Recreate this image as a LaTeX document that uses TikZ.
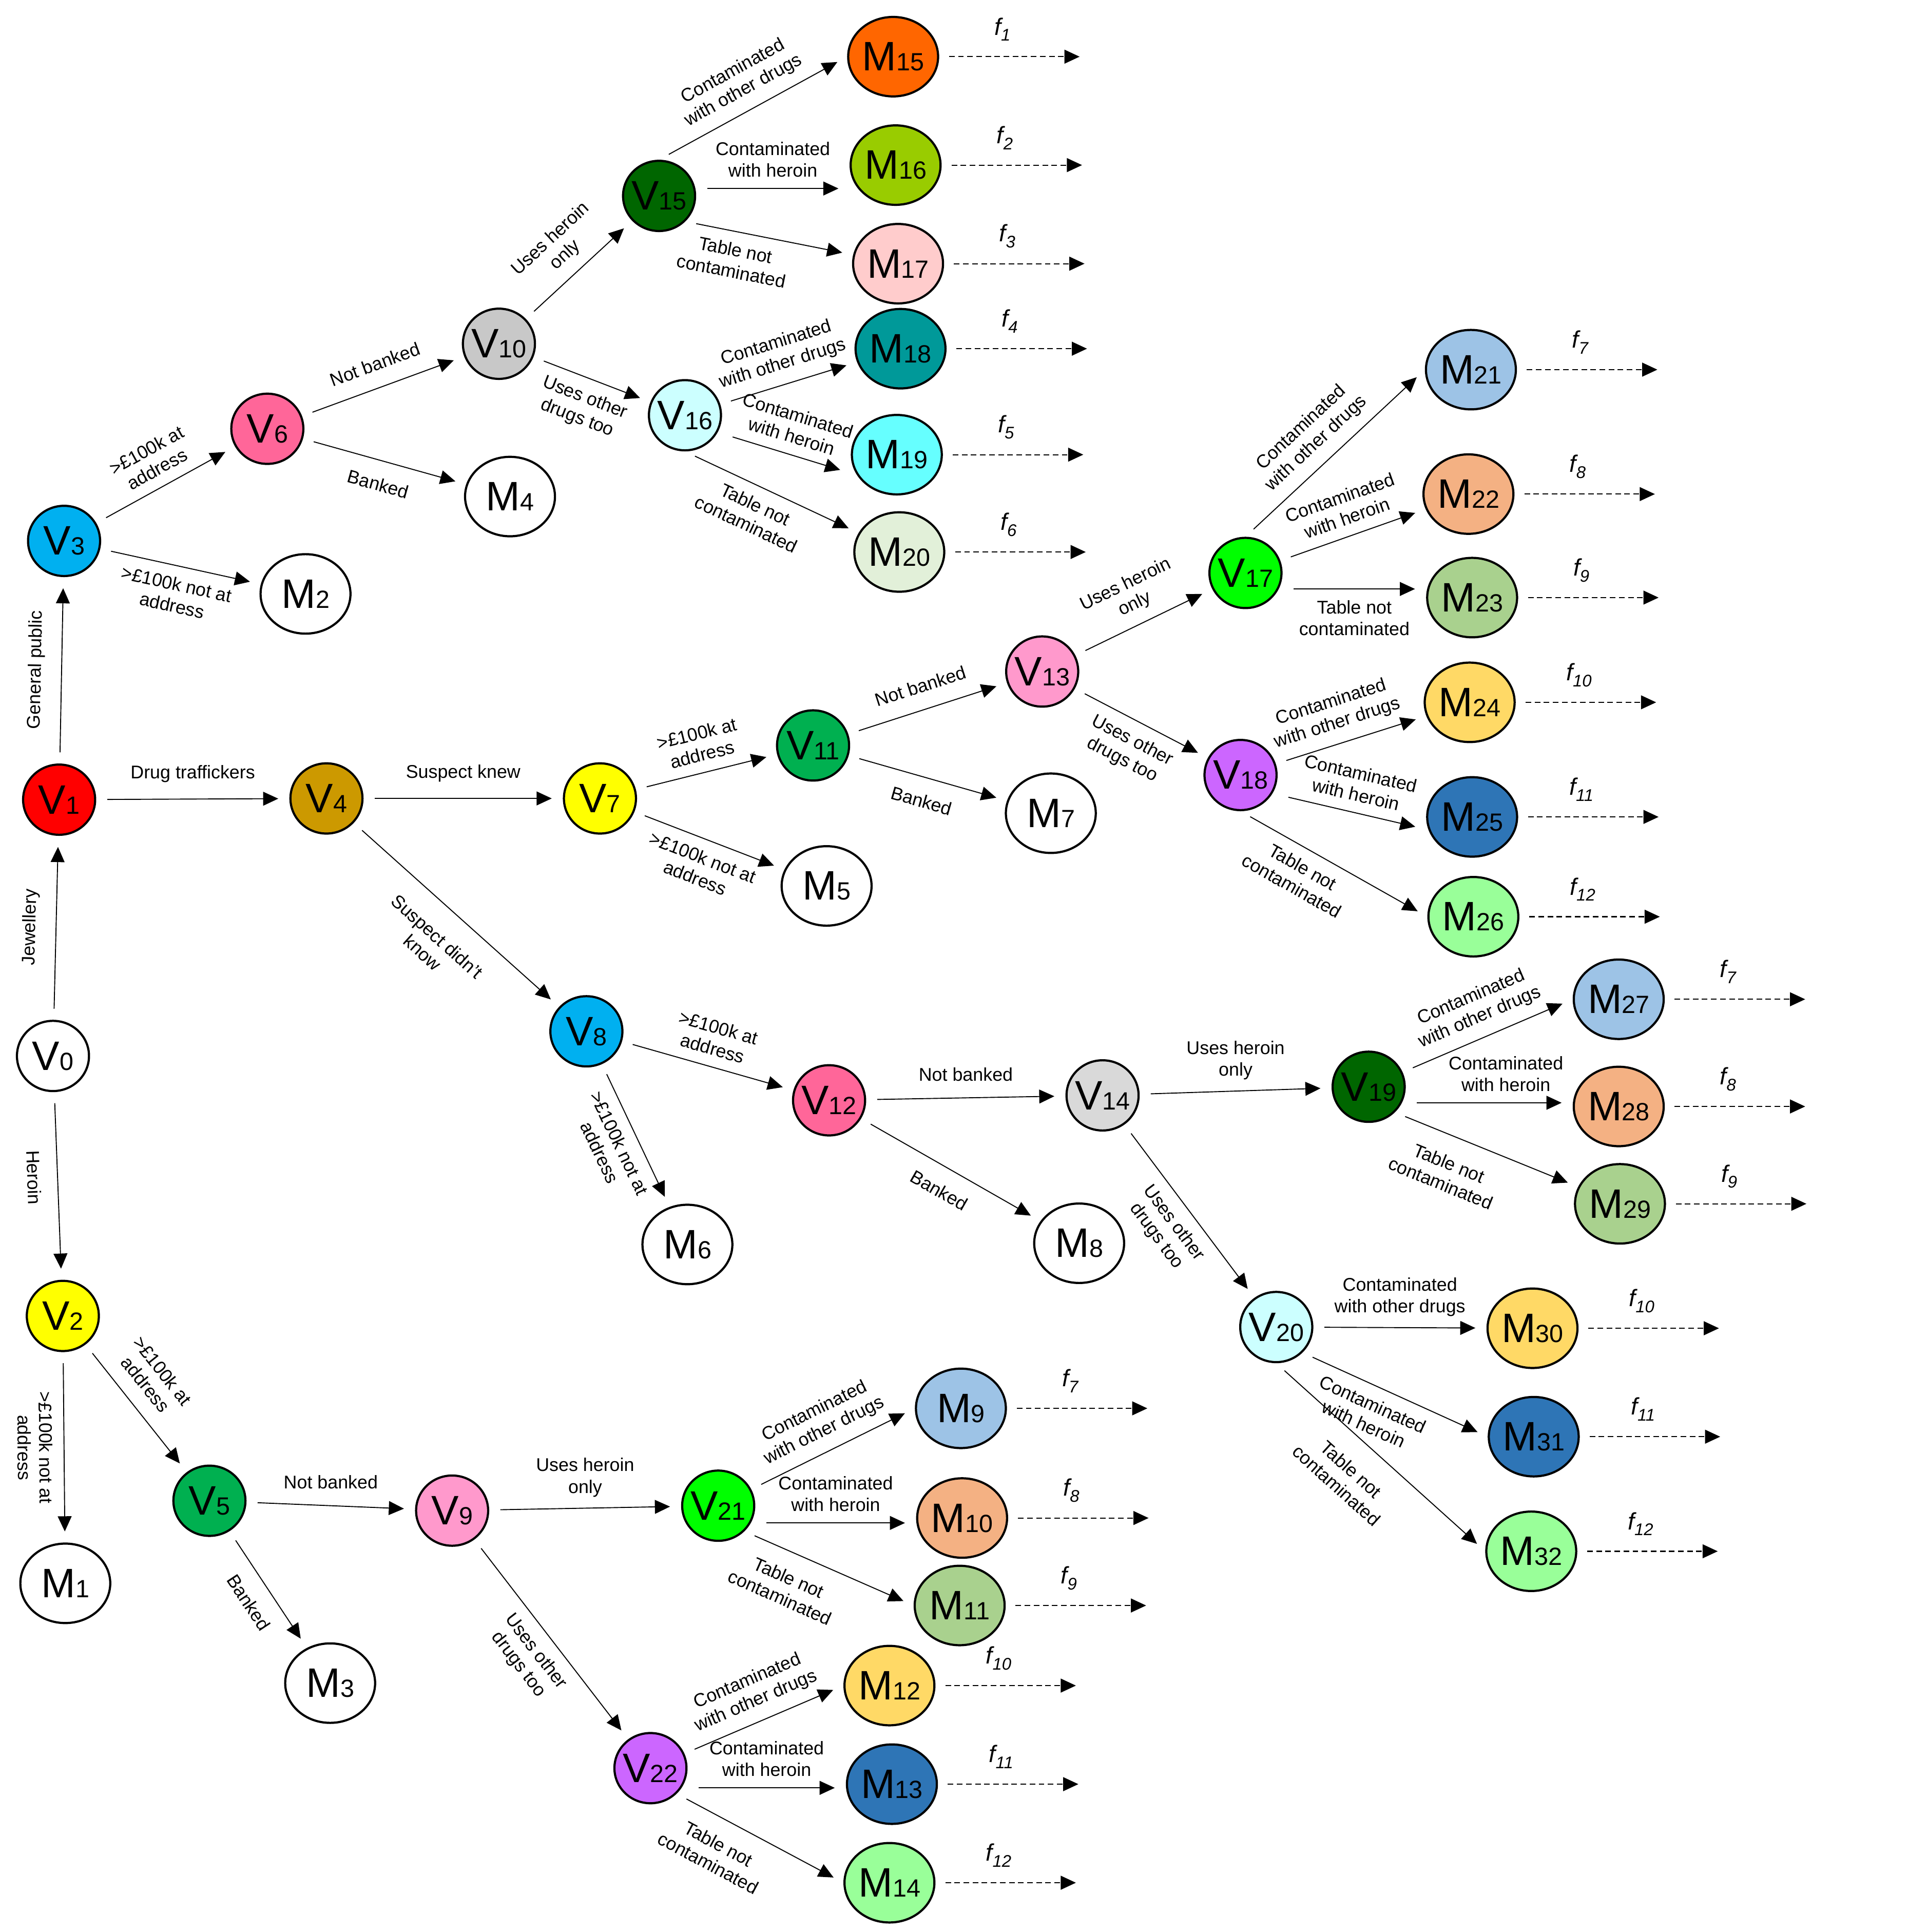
\documentclass[tikz,border=0pt]{standalone}
\usepackage{fontspec}
\setmainfont{Liberation Sans}
\usetikzlibrary{shapes.geometric,arrows.meta}

\definecolor{cred}{RGB}{255,0,0}
\definecolor{cyel}{RGB}{255,255,0}
\definecolor{cblu}{RGB}{0,176,240}
\definecolor{cgold}{RGB}{204,153,0}
\definecolor{cgrn}{RGB}{0,176,80}
\definecolor{crose}{RGB}{255,102,153}
\definecolor{cpink}{RGB}{255,153,204}
\definecolor{cgray}{RGB}{200,200,200}
\definecolor{clgray}{RGB}{217,217,217}
\definecolor{cdkgrn}{RGB}{0,102,0}
\definecolor{cice}{RGB}{204,255,255}
\definecolor{clime}{RGB}{0,255,0}
\definecolor{cviol}{RGB}{204,102,255}
\definecolor{corange}{RGB}{255,102,0}
\definecolor{colive}{RGB}{153,204,0}
\definecolor{cblush}{RGB}{255,204,204}
\definecolor{cteal}{RGB}{0,153,153}
\definecolor{caqua}{RGB}{102,255,255}
\definecolor{cpale}{RGB}{226,240,217}
\definecolor{csky}{RGB}{157,195,230}
\definecolor{csalm}{RGB}{244,177,131}
\definecolor{csage}{RGB}{169,209,142}
\definecolor{csun}{RGB}{255,217,102}
\definecolor{csea}{RGB}{46,117,182}
\definecolor{cmint}{RGB}{153,255,153}

\newcommand{\nlab}[2]{\makebox[0pt]{\fontsize{19}{19}\selectfont #1\fontsize{11.5}{11.5}\selectfont #2}}
\newcommand{\fl}[1]{{\fontsize{11}{12}\selectfont\itshape f\raisebox{-2.8pt}{\fontsize{7.8}{8}\selectfont #1}}}

\tikzset{
  vnode/.style={ellipse, draw, line width=1pt, fill=white, minimum width=1.17cm, minimum height=1.14cm, inner sep=0pt},
  mnode/.style={ellipse, draw, line width=1pt, fill=white, minimum width=1.46cm, minimum height=1.29cm, inner sep=0pt},
  link/.style={-{Triangle[length=7pt,width=6.4pt]}, line width=0.45pt, shorten <=0.18cm, shorten >=0.18cm},
  fout/.style={-{Triangle[length=7pt,width=6.4pt]}, line width=0.5pt, dash pattern=on 2.6pt off 1.6pt, shorten <=0.16cm},
  lab/.style={font=\fontsize{8.5}{10}\selectfont, align=center, inner sep=5pt},
  solo/.style={lab, inner sep=7.5pt},
  flab/.style={pos=0.45, above=4pt, inner sep=3pt},
}

\begin{document}
\begin{tikzpicture}[x=0.02cm, y=-0.02cm]
  \path[use as bounding box, fill=white] (0,0) rectangle (1564,1568);

  % decision nodes
  \node[vnode] (v0) at (43,857) {\nlab{V}{0}};
  \node[vnode,fill=cred] (v1) at (48,649) {\nlab{V}{1}};
  \node[vnode,fill=cyel] (v2) at (51,1068) {\nlab{V}{2}};
  \node[vnode,fill=cblu] (v3) at (52,439) {\nlab{V}{3}};
  \node[vnode,fill=cgold] (v4) at (265,648) {\nlab{V}{4}};
  \node[vnode,fill=cgrn] (v5) at (170,1218) {\nlab{V}{5}};
  \node[vnode,fill=crose] (v6) at (217,348) {\nlab{V}{6}};
  \node[vnode,fill=cyel] (v7) at (487,648) {\nlab{V}{7}};
  \node[vnode,fill=cblu] (v8) at (476,837) {\nlab{V}{8}};
  \node[vnode,fill=cpink] (v9) at (367,1226) {\nlab{V}{9}};
  \node[vnode,fill=cgray] (v10) at (405,279) {\nlab{V}{10}};
  \node[vnode,fill=cgrn] (v11) at (660,605) {\nlab{V}{11}};
  \node[vnode,fill=crose] (v12) at (673,893) {\nlab{V}{12}};
  \node[vnode,fill=cpink] (v13) at (846,545) {\nlab{V}{13}};
  \node[vnode,fill=clgray] (v14) at (895,889) {\nlab{V}{14}};
  \node[vnode,fill=cdkgrn] (v15) at (535,159) {\nlab{V}{15}};
  \node[vnode,fill=cice] (v16) at (556,337) {\nlab{V}{16}};
  \node[vnode,fill=clime] (v17) at (1011,465) {\nlab{V}{17}};
  \node[vnode,fill=cviol] (v18) at (1007,629) {\nlab{V}{18}};
  \node[vnode,fill=cdkgrn] (v19) at (1111,882) {\nlab{V}{19}};
  \node[vnode,fill=cice] (v20) at (1036,1077) {\nlab{V}{20}};
  \node[vnode,fill=clime] (v21) at (583,1222) {\nlab{V}{21}};
  \node[vnode,fill=cviol] (v22) at (528,1435) {\nlab{V}{22}};

  % outcome nodes
  \node[mnode] (m1) at (53,1285) {\nlab{M}{1}};
  \node[mnode] (m2) at (248,482) {\nlab{M}{2}};
  \node[mnode] (m3) at (268,1366) {\nlab{M}{3}};
  \node[mnode] (m4) at (414,403) {\nlab{M}{4}};
  \node[mnode] (m5) at (671,719) {\nlab{M}{5}};
  \node[mnode] (m6) at (558,1010) {\nlab{M}{6}};
  \node[mnode] (m7) at (853,660) {\nlab{M}{7}};
  \node[mnode] (m8) at (876,1009) {\nlab{M}{8}};
  \node[mnode,fill=csky] (m9) at (780,1143) {\nlab{M}{9}};
  \node[mnode,fill=csalm] (m10) at (781,1232) {\nlab{M}{10}};
  \node[mnode,fill=csage] (m11) at (779,1303) {\nlab{M}{11}};
  \node[mnode,fill=csun] (m12) at (722,1368) {\nlab{M}{12}};
  \node[mnode,fill=csea] (m13) at (724,1448) {\nlab{M}{13}};
  \node[mnode,fill=cmint] (m14) at (722,1528) {\nlab{M}{14}};
  \node[mnode,fill=corange] (m15) at (725,46) {\nlab{M}{15}};
  \node[mnode,fill=colive] (m16) at (727,134) {\nlab{M}{16}};
  \node[mnode,fill=cblush] (m17) at (729,214) {\nlab{M}{17}};
  \node[mnode,fill=cteal] (m18) at (731,283) {\nlab{M}{18}};
  \node[mnode,fill=caqua] (m19) at (728,369) {\nlab{M}{19}};
  \node[mnode,fill=cpale] (m20) at (730,448) {\nlab{M}{20}};
  \node[mnode,fill=csky] (m21) at (1194,300) {\nlab{M}{21}};
  \node[mnode,fill=csalm] (m22) at (1192,401) {\nlab{M}{22}};
  \node[mnode,fill=csage] (m23) at (1195,485) {\nlab{M}{23}};
  \node[mnode,fill=csun] (m24) at (1193,570) {\nlab{M}{24}};
  \node[mnode,fill=csea] (m25) at (1195,663) {\nlab{M}{25}};
  \node[mnode,fill=cmint] (m26) at (1196,744) {\nlab{M}{26}};
  \node[mnode,fill=csky] (m27) at (1314,811) {\nlab{M}{27}};
  \node[mnode,fill=csalm] (m28) at (1314,898) {\nlab{M}{28}};
  \node[mnode,fill=csage] (m29) at (1315,977) {\nlab{M}{29}};
  \node[mnode,fill=csun] (m30) at (1244,1078) {\nlab{M}{30}};
  \node[mnode,fill=csea] (m31) at (1245,1166) {\nlab{M}{31}};
  \node[mnode,fill=cmint] (m32) at (1243,1259) {\nlab{M}{32}};

  % first split
  \draw[link] (v0) -- node[solo,sloped,above] {Jewellery} (v1);
  \draw[link] (v0) -- node[solo,sloped,below,pos=0.45] {Heroin} (v2);
  \draw[link] (v1) -- node[solo,sloped,above] {General public} (v3);
  \draw[link] (v1) -- node[solo,above] {Drug traffickers} (v4);

  % general public
  \draw[link] (v3) -- node[lab,sloped,above] {>£100k at\\address} (v6);
  \draw[link] (v3) -- node[lab,sloped,below] {>£100k not at\\address} (m2);
  \draw[link] (v6) -- node[solo,sloped,above] {Not banked} (v10);
  \draw[link] (v6) -- node[solo,sloped,below] {Banked} (m4);
  \draw[link] (v10) -- node[lab,sloped,above] {Uses heroin\\only} (v15);
  \draw[link] (v10) -- node[lab,sloped,below] {Uses other\\drugs too} (v16);
  \draw[link] (v15.north) -- node[lab,sloped,above] {Contaminated\\with other drugs} (m15.west);
  \draw[link] ([yshift=0.12cm]v15.east) -- node[lab,above] {Contaminated\\with heroin} ([yshift=0.12cm]v15.east -| m16.west);
  \draw[link] (v15.south east) -- node[lab,sloped,below,pos=0.32] {Table not\\contaminated} (m17);
  \draw[link] (v16) -- node[lab,sloped,above] {Contaminated\\with other drugs} (m18);
  \draw[link] ([yshift=-0.3cm]v16.east) -- node[lab,sloped,above] {Contaminated\\with heroin} ([yshift=-0.3cm]m19.west);
  \draw[link] (v16.south) -- node[lab,sloped,below,pos=0.45] {Table not\\contaminated} (m20);

  % drug traffickers
  \draw[link] (v4) -- node[solo,above] {Suspect knew} (v7);
  \draw[link] (v4) -- node[lab,sloped,below=5pt] {Suspect didn't\\know} (v8);
  \draw[link] (v7) -- node[lab,sloped,above] {>£100k at\\address} (v11);
  \draw[link] (v7) -- node[lab,sloped,below] {>£100k not at\\address} (m5);
  \draw[link] (v11) -- node[solo,sloped,above] {Not banked} (v13);
  \draw[link] (v11) -- node[solo,sloped,below] {Banked} (m7);
  \draw[link] (v13) -- node[lab,sloped,above] {Uses heroin\\only} (v17);
  \draw[link] (v13) -- node[lab,sloped,below] {Uses other\\drugs too} (v18);
  \draw[link] (v17.north) -- node[lab,sloped,above,pos=0.47] {Contaminated\\with other drugs} (m21.west);
  \draw[link] (v17) -- node[lab,sloped,above] {Contaminated\\with heroin} (m22);
  \draw[link] ([yshift=-0.26cm]v17.east) -- node[lab,below] {Table not\\contaminated} ([yshift=-0.26cm]v17.east -| m23.west);
  \draw[link] (v18) -- node[lab,sloped,above,pos=0.45] {Contaminated\\with other drugs} (m24);
  \draw[link] ([yshift=-0.32cm]v18.east) -- node[lab,sloped,above] {Contaminated\\with heroin} ([yshift=-0.2cm]m25.west);
  \draw[link] (v18.south) -- node[lab,sloped,below,pos=0.38] {Table not\\contaminated} (m26.west);
  \draw[link] (v8) -- node[lab,sloped,above] {>£100k at\\address} (v12);
  \draw[link] (v8) -- node[lab,sloped,below] {>£100k not at\\address} (m6);
  \draw[link] (v12) -- node[solo,above] {Not banked} (v14);
  \draw[link] (v12) -- node[solo,sloped,below] {Banked} (m8);
  \draw[link] (v14) -- node[lab,above] {Uses heroin\\only} (v19);
  \draw[link] (v14) -- node[lab,sloped,below] {Uses other\\drugs too} (v20);
  \draw[link] (v19) -- node[lab,sloped,above] {Contaminated\\with other drugs} (m27.west);
  \draw[link] ([yshift=-0.26cm]v19.east) -- node[lab,above,pos=0.6] {Contaminated\\with heroin} ([yshift=-0.26cm]v19.east -| m28.west);
  \draw[link] (v19.south east) -- node[lab,sloped,below=4pt,pos=0.35] {Table not\\contaminated} (m29);
  \draw[link] (v20) -- node[lab,above] {Contaminated\\with other drugs} (m30);
  \draw[link] (v20.south east) -- node[lab,sloped,below,pos=0.42] {Contaminated\\with heroin} (m31.west);
  \draw[link] (v20.south) -- node[lab,sloped,below=5pt,pos=0.45] {Table not\\contaminated} (m32.west);

  % heroin
  \draw[link] (v2) -- node[lab,sloped,below] {>£100k not at\\address} (m1);
  \draw[link] (v2) -- node[lab,sloped,above=2pt,pos=0.42] {>£100k at\\address} (v5);
  \draw[link] (v5) -- node[solo,above] {Not banked} (v9);
  \draw[link] (v5) -- node[solo,sloped,below] {Banked} (m3);
  \draw[link] (v9) -- node[lab,above] {Uses heroin\\only} (v21);
  \draw[link] (v9) -- node[lab,sloped,below] {Uses other\\drugs too} (v22);
  \draw[link] (v21) -- node[lab,sloped,above] {Contaminated\\with other drugs} (m9.west);
  \draw[link] ([yshift=-0.28cm]v21.east) -- node[lab,above] {Contaminated\\with heroin} ([yshift=-0.28cm]v21.east -| m10.west);
  \draw[link] (v21.south east) -- node[lab,sloped,below=3pt,pos=0.32] {Table not\\contaminated} (m11.west);
  \draw[link] (v22) -- node[lab,sloped,above] {Contaminated\\with other drugs} (m12.west);
  \draw[link] ([yshift=-0.32cm]v22.east) -- node[lab,above] {Contaminated\\with heroin} ([yshift=-0.32cm]v22.east -| m13.west);
  \draw[link] (v22.south east) -- node[lab,sloped,below=3pt,pos=0.32] {Table not\\contaminated} (m14.west);

  % payoffs
  \coordinate (o15) at ([xshift=2.28cm]m15.east);
  \coordinate (o16) at ([xshift=2.28cm]m16.east);
  \coordinate (o17) at ([xshift=2.28cm]m17.east);
  \coordinate (o18) at ([xshift=2.28cm]m18.east);
  \coordinate (o19) at ([xshift=2.28cm]m19.east);
  \coordinate (o20) at ([xshift=2.28cm]m20.east);
  \coordinate (o21) at ([xshift=2.28cm]m21.east);
  \coordinate (o22) at ([xshift=2.28cm]m22.east);
  \coordinate (o23) at ([xshift=2.28cm]m23.east);
  \coordinate (o24) at ([xshift=2.28cm]m24.east);
  \coordinate (o25) at ([xshift=2.28cm]m25.east);
  \coordinate (o26) at ([xshift=2.28cm]m26.east);
  \coordinate (o27) at ([xshift=2.28cm]m27.east);
  \coordinate (o28) at ([xshift=2.28cm]m28.east);
  \coordinate (o29) at ([xshift=2.28cm]m29.east);
  \coordinate (o30) at ([xshift=2.28cm]m30.east);
  \coordinate (o31) at ([xshift=2.28cm]m31.east);
  \coordinate (o32) at ([xshift=2.28cm]m32.east);
  \coordinate (o9) at ([xshift=2.28cm]m9.east);
  \coordinate (o10) at ([xshift=2.28cm]m10.east);
  \coordinate (o11) at ([xshift=2.28cm]m11.east);
  \coordinate (o12) at ([xshift=2.28cm]m12.east);
  \coordinate (o13) at ([xshift=2.28cm]m13.east);
  \coordinate (o14) at ([xshift=2.28cm]m14.east);
  \draw[fout] (m15) -- node[flab] {\fl{1}} (o15);
  \draw[fout] (m16) -- node[flab] {\fl{2}} (o16);
  \draw[fout] (m17) -- node[flab] {\fl{3}} (o17);
  \draw[fout] (m18) -- node[flab] {\fl{4}} (o18);
  \draw[fout] (m19) -- node[flab] {\fl{5}} (o19);
  \draw[fout] (m20) -- node[flab] {\fl{6}} (o20);
  \draw[fout] (m21) -- node[flab] {\fl{7}} (o21);
  \draw[fout] (m22) -- node[flab] {\fl{8}} (o22);
  \draw[fout] (m23) -- node[flab] {\fl{9}} (o23);
  \draw[fout] (m24) -- node[flab] {\fl{10}} (o24);
  \draw[fout] (m25) -- node[flab] {\fl{11}} (o25);
  \draw[fout] (m26) -- node[flab] {\fl{12}} (o26);
  \draw[fout] (m27) -- node[flab] {\fl{7}} (o27);
  \draw[fout] (m28) -- node[flab] {\fl{8}} (o28);
  \draw[fout] (m29) -- node[flab] {\fl{9}} (o29);
  \draw[fout] (m30) -- node[flab] {\fl{10}} (o30);
  \draw[fout] (m31) -- node[flab] {\fl{11}} (o31);
  \draw[fout] (m32) -- node[flab] {\fl{12}} (o32);
  \draw[fout] (m9) -- node[flab] {\fl{7}} (o9);
  \draw[fout] (m10) -- node[flab] {\fl{8}} (o10);
  \draw[fout] (m11) -- node[flab] {\fl{9}} (o11);
  \draw[fout] (m12) -- node[flab] {\fl{10}} (o12);
  \draw[fout] (m13) -- node[flab] {\fl{11}} (o13);
  \draw[fout] (m14) -- node[flab] {\fl{12}} (o14);
\end{tikzpicture}
\end{document}
